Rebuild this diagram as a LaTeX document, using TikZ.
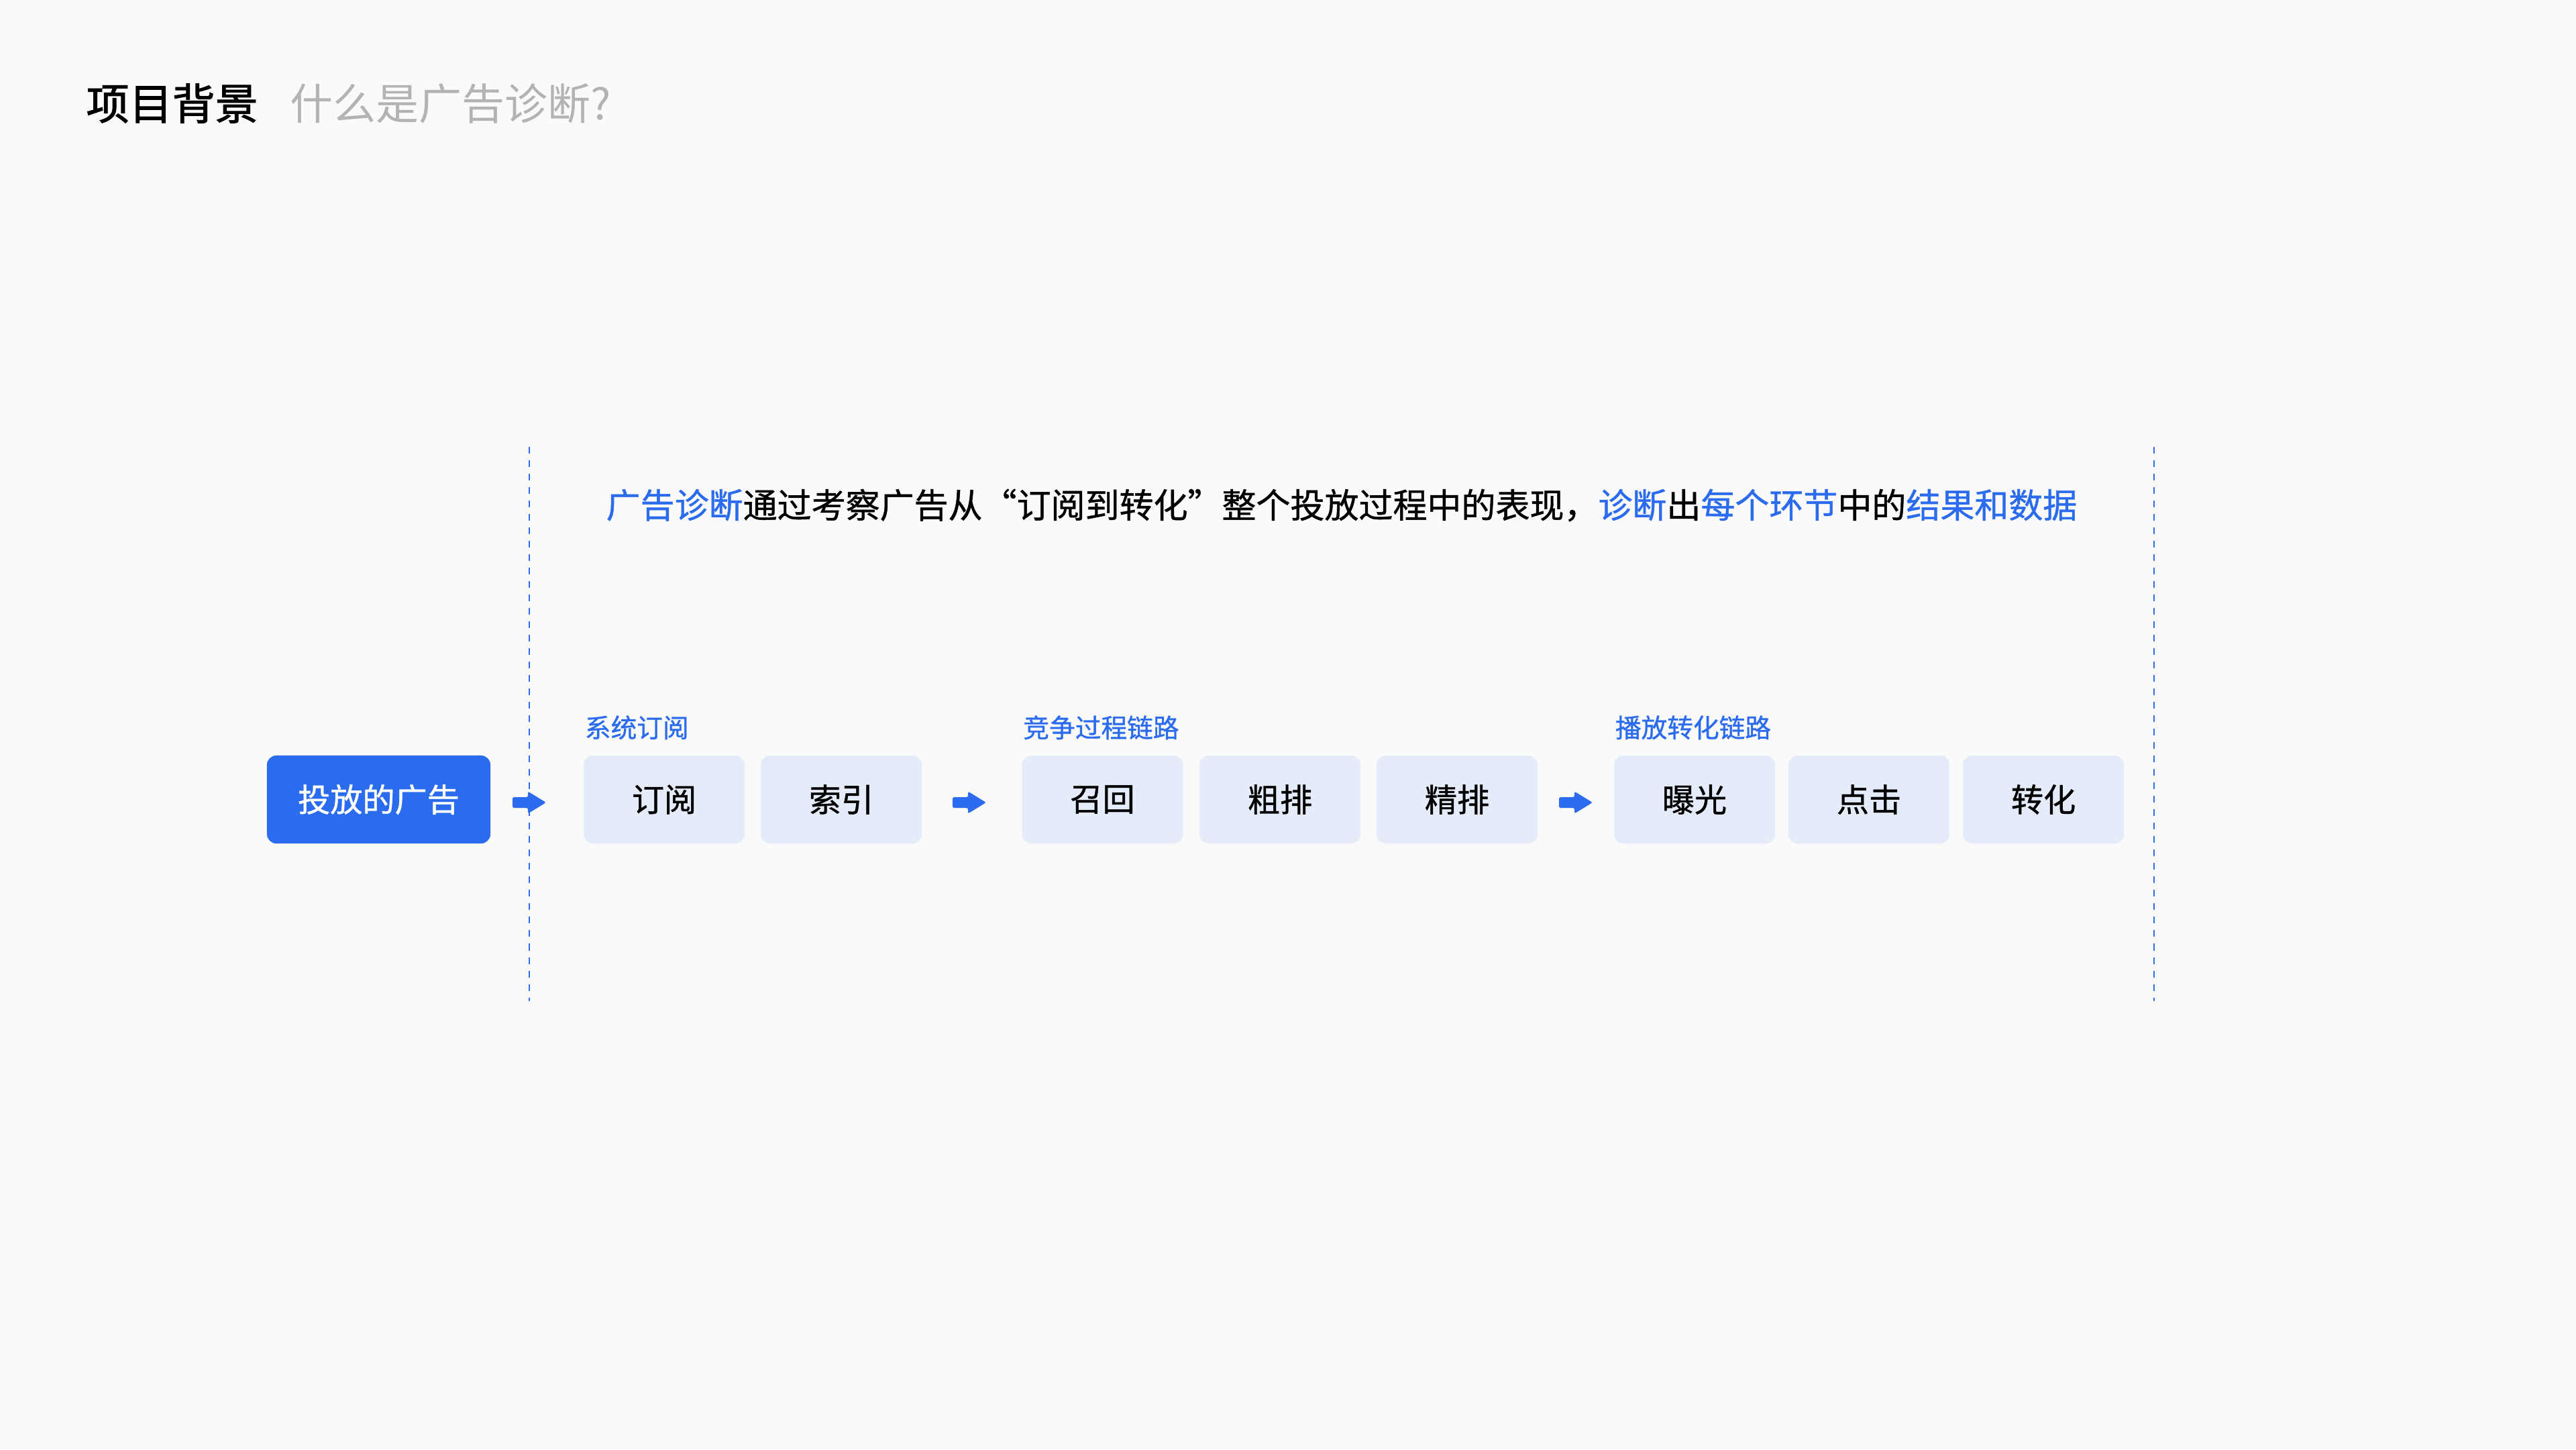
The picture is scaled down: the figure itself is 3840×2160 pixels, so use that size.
\documentclass[tikz,border=0pt]{standalone}
\usepackage{fontspec}
\setmainfont{Noto Sans CJK SC}
\newfontfamily\medfont{Noto Sans CJK SC}[FakeBold=0.9]
\newfontfamily\titlefont{Noto Sans CJK SC}[FakeBold=1.6]
\usetikzlibrary{calc}
\definecolor{bgcol}{HTML}{FAFAFA}
\definecolor{adblue}{HTML}{2B6CEE}
\definecolor{lightbox}{HTML}{E5ECF9}
\definecolor{subgray}{HTML}{B3B3B3}
\definecolor{dashblue}{HTML}{2F6DEE}
\tikzset{
  stagebox/.style={rounded corners=0.14cm, fill=lightbox, minimum width=2.4cm, minimum height=1.31cm, inner sep=0pt, text=black, font=\medfont\fontsize{13.7}{16}\selectfont},
  adbox/.style={stagebox, fill=adblue, text=white, minimum width=3.33cm},
  grouplabel/.style={anchor=west, inner sep=0pt, text=adblue, font=\medfont\fontsize{11}{13}\selectfont},
  divider/.style={draw=dashblue, line width=0.02cm, dash pattern=on 0.1cm off 0.1cm},
  flowarrow/.style={fill=adblue, rounded corners=0.025cm}
}
\newcommand\myflowarrow[1]{\fill[flowarrow] (#1) ++(0,-8) -- ++(23,0) -- ++(0,-8.5) -- ++(27,16.5) -- ++(-27,16.5) -- ++(0,-8.5) -- ++(-23,0) -- cycle;}
\begin{document}
\begin{tikzpicture}[x=0.01cm,y=-0.01cm]
\fill[bgcol] (0,0) rectangle (3840,2160);
\useasboundingbox (0,0) rectangle (3840,2160);
% title
\node[anchor=west, inner sep=0pt, font=\titlefont\fontsize{18.2}{21}\selectfont] (title) at (128,154) {项目背景};
\node[anchor=west, inner sep=0pt, text=subgray, font=\fontsize{18.2}{21}\selectfont] (subtitle) at (432,154) {什么是广告诊断?};
% dividers
\coordinate (d1a) at (789,666); \coordinate (d1b) at (789,1492);
\coordinate (d2a) at (3211,666); \coordinate (d2b) at (3211,1492);
\draw[divider] (d1a) -- (d1b);
\draw[divider] (d2a) -- (d2b);
% intro sentence
\node[inner sep=0pt, font=\medfont\fontsize{14.5}{17}\selectfont] (intro) at (2000,753) {\textcolor{adblue}{广告诊断}通过考察广告从“订阅到转化”整个投放过程中的表现，\textcolor{adblue}{诊断}出\textcolor{adblue}{每个环节}中的\textcolor{adblue}{结果和数据}};
% boxes
\node[adbox] (ad) at (564.5,1191.5) {投放的广告};
\node[stagebox] (sub) at (990,1191.5) {订阅};
\node[stagebox] (idx) at (1254,1191.5) {索引};
\node[stagebox] (rec) at (1643.5,1191.5) {召回};
\node[stagebox] (rough) at (1908,1191.5) {粗排};
\node[stagebox] (fine) at (2172,1191.5) {精排};
\node[stagebox] (expo) at (2526,1191.5) {曝光};
\node[stagebox] (click) at (2786,1191.5) {点击};
\node[stagebox] (conv) at (3046,1191.5) {转化};
% group labels
\node[grouplabel] (g1) at ($(sub.north west)+(2,-41)$) {系统订阅};
\node[grouplabel] (g2) at ($(rec.north west)+(2,-41)$) {竞争过程链路};
\node[grouplabel] (g3) at ($(expo.north west)+(2,-41)$) {播放转化链路};
% arrows
\coordinate (a1) at (764,1196);
\coordinate (a2) at (1420,1196);
\coordinate (a3) at (2324,1196);
\myflowarrow{a1}
\myflowarrow{a2}
\myflowarrow{a3}
\end{tikzpicture}
\end{document}
